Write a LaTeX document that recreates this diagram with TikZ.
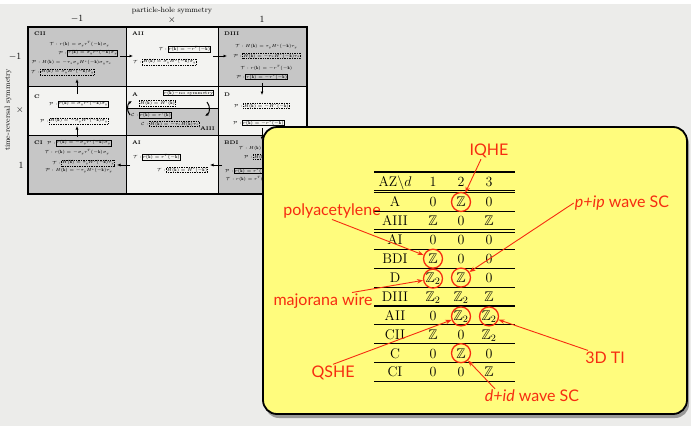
\RequirePackage{fix-cm}
\documentclass[tikz,border=0pt]{standalone}
\usepackage{amssymb}
\usepackage{fontspec}
\newfontfamily\notefont{Lato}
\usetikzlibrary{arrows.meta}

\definecolor{slidebg}{RGB}{236,236,234}
\definecolor{cellgray}{RGB}{198,198,198}
\definecolor{celllight}{RGB}{243,243,241}
\definecolor{noteyellow}{RGB}{255,252,125}
\definecolor{notered}{RGB}{246,44,16}

\newcommand{\kk}{\mathbf{k}}
\newcommand{\ZZ}{\mathbb{Z}}
\newcommand{\ZZt}{\mathbb{Z}_2}

\tikzset{
  formula/.style={inner sep=0.5pt, font=\fontsize{4.4}{5}\selectfont},
  solidbox/.style={formula, draw, line width=0.7pt},
  dotbox/.style={formula, draw, densely dotted, line width=0.7pt},
  withT/.style={label={[formula]left:$\mathcal{T}:$}},
  withP/.style={label={[formula]left:$\mathcal{P}:$}},
  withC/.style={label={[formula]left:$\mathcal{C}:$}},
  classname/.style={inner sep=0pt, font=\fontsize{5.2}{6}\selectfont\bfseries},
  flow/.style={line width=1pt, -{Latex[length=3.5pt,width=3pt]}},
  axislabel/.style={inner sep=0pt, font=\fontsize{7.5}{8}\selectfont},
  axisnum/.style={inner sep=0pt, font=\fontsize{9.5}{10}\selectfont},
  entry/.style={inner sep=0pt, font=\fontsize{14}{14}\selectfont},
  hl/.style={circle, draw=notered, line width=1.3pt, minimum size=19pt, inner sep=0pt},
  tag/.style={inner sep=1pt, text=notered, font=\notefont\fontsize{16}{17}\selectfont},
  pointer/.style={draw=notered, line width=0.9pt, -{Stealth[length=6pt,width=4.5pt]}},
}

\begin{document}
\begin{tikzpicture}[x=1pt, y=-1pt]
\useasboundingbox (0,0) rectangle (691,426);
\fill[slidebg] (0,0) rectangle (691,426);
\fill[white] (0,0) rectangle (691,4);

% grid of the symmetry classes
\def\gl{28} \def\gm{126} \def\gn{218} \def\gr{307}
\def\ga{27} \def\gb{86} \def\gc{135} \def\gd{194}
\def\gs{108} % A / AIII split

\fill[cellgray] (\gl,\ga) rectangle (\gm,\gb);
\fill[celllight] (\gm,\ga) rectangle (\gn,\gb);
\fill[cellgray] (\gn,\ga) rectangle (\gr,\gb);
\fill[celllight] (\gl,\gb) rectangle (\gr,\gc);
\fill[cellgray] (\gm,\gs) rectangle (\gn,\gc);
\fill[cellgray] (\gl,\gc) rectangle (\gm,\gd);
\fill[celllight] (\gm,\gc) rectangle (\gn,\gd);
\fill[cellgray] (\gn,\gc) rectangle (\gr,\gd);

\draw[line width=0.9pt] (\gm,\ga) -- (\gm,\gd) (\gn,\ga) -- (\gn,\gd)
  (\gl,\gb) -- (\gr,\gb) (\gl,\gc) -- (\gr,\gc);
\draw[line width=0.4pt] (\gm,\gs) -- (\gn,\gs);
\draw[line width=1.2pt] (\gl,\ga) rectangle (\gr,\gd);

\node[axislabel] (ph) at (172,11) {particle-hole symmetry};
\node[axisnum] (pm) at (77,19) {$-1$};
\node[axisnum] (p0) at (172,20) {$\times$};
\node[axisnum] (pp) at (262,19) {$1$};
\node[axislabel, rotate=90] (tr) at (8,110) {time-reversal symmetry};
\node[axisnum] (tm) at (15,57) {$-1$};
\node[axisnum] (t0) at (20,110) {$\times$};
\node[axisnum] (tp) at (21,165) {$1$};

% CII
\node[classname, anchor=west] (cii) at (34,34) {CII};
\node[formula, anchor=east] (cii-tr) at (110,44) {$\mathcal{T}: r(\kk)=\sigma_y r^T(-\kk)\sigma_y$};
\node[solidbox, withP, anchor=east] (cii-pr) at (118,53) {$r(\kk)=\sigma_y r^*(-\kk)\sigma_y$};
\node[formula, anchor=west] (cii-ph) at (31,63) {$\mathcal{P}: H(\kk)=-\tau_x\sigma_y H^*(-\kk)\sigma_y\tau_x$};
\node[dotbox, withT, anchor=west] (cii-th) at (40,72) {$H(\kk)=\sigma_y H^*(-\kk)\sigma_y$};

% AII
\node[classname, anchor=west] (aii) at (132,34) {AII};
\node[solidbox, withT, anchor=east] (aii-tr) at (211,49) {$r(\kk)=-r^T(-\kk)$};
\node[dotbox, withT, anchor=west] (aii-th) at (142,62) {$H(\kk)=\sigma_y H^*(-\kk)\sigma_y$};

% DIII
\node[classname, anchor=west] (diii) at (224,34) {DIII};
\node[formula, anchor=east] (diii-th) at (298,47) {$\mathcal{T}: H(\kk)=\tau_y H^*(-\kk)\tau_y$};
\node[dotbox, withP, anchor=east] (diii-ph) at (301,56) {$H(\kk)=-\tau_x H^*(-\kk)\tau_x$};
\node[formula, anchor=east] (diii-tr) at (293,68) {$\mathcal{T}: r(\kk)=-r^T(-\kk)$};
\node[solidbox, withP, anchor=east] (diii-pr) at (288,77) {$r(\kk)=-r^*(-\kk)$};

% C
\node[classname, anchor=west] (c) at (34,97) {C};
\node[solidbox, withP, anchor=west] (c-pr) at (58,104) {$r(\kk)=\sigma_y r^*(-\kk)\sigma_y$};
\node[dotbox, withP, anchor=west] (c-ph) at (49,121) {$H(\kk)=-\sigma_y H^*(-\kk)\sigma_y$};

% A and AIII
\node[classname, anchor=west] (a) at (132,95) {A};
\node[solidbox, anchor=east] (a-r) at (214,93) {$r(\kk)-$no symmetry};
\node[dotbox, anchor=west] (a-h) at (139,103) {$H(\kk)=H^\dagger(\kk)$};
\node[solidbox, withC, anchor=west] (aiii-cr) at (139,115) {$r(\kk)=r^\dagger(\kk)$};
\node[dotbox, withC, anchor=west] (aiii-ch) at (149,124) {$H(\kk)=-\tau_z H(\kk)\tau_z$};
\node[classname, anchor=east] (aiii) at (215,129) {AIII};

% D
\node[classname, anchor=west] (d) at (224,95) {D};
\node[dotbox, withP, anchor=west] (d-ph) at (243,106) {$H(\kk)=-H^*(-\kk)$};
\node[solidbox, withP, anchor=west] (d-pr) at (242,123) {$r(\kk)=-r^*(-\kk)$};

% CI
\node[classname, anchor=west] (ci) at (34,143) {CI};
\node[solidbox, withP, anchor=west] (ci-pr) at (56,143) {$r(\kk)=-\sigma_y r^*(-\kk)\sigma_y$};
\node[formula, anchor=east] (ci-tr) at (110,152) {$\mathcal{T}: r(\kk)=-\sigma_y r^T(-\kk)\sigma_y$};
\node[dotbox, withT, anchor=east] (ci-th) at (115,163) {$H(\kk)=\tau_y H^*(-\kk)\tau_y$};
\node[formula, anchor=east] (ci-ph) at (113,171) {$\mathcal{P}: H(\kk)=-\tau_y H^*(-\kk)\tau_y$};

% AI
\node[classname, anchor=west] (ai) at (132,143) {AI};
\node[solidbox, withT, anchor=west] (ai-tr) at (142,157) {$r(\kk)=r^T(-\kk)$};
\node[dotbox, withT, anchor=east] (ai-th) at (208,170) {$H(\kk)=H^*(-\kk)$};

% BDI
\node[classname, anchor=west] (bdi) at (224,143) {BDI};
\node[formula, anchor=west] (bdi-th) at (238,149) {$\mathcal{T}: H(\kk)=\tau_y H^*(-\kk)\tau_y$};
\node[dotbox, withP, anchor=west] (bdi-ph) at (253,157) {$H(\kk)=-\tau_x H^*(-\kk)\tau_x$};
\node[solidbox, withP, anchor=west] (bdi-pr) at (234,171) {$r(\kk)=r^*(-\kk)$};
\node[formula, anchor=west] (bdi-tr) at (225,179) {$\mathcal{T}: r(\kk)=r^T(-\kk)$};

% arrows between the classes
\coordinate (cii-out) at (120,56);  \coordinate (aii-in) at (133,56);
\coordinate (aii-out) at (213,56);  \coordinate (diii-in) at (227,56);
\coordinate (c-up) at (77,94);      \coordinate (cii-in) at (77,79);
\coordinate (diii-out) at (262,83); \coordinate (d-in) at (262,95);
\coordinate (ci-up) at (77,137);    \coordinate (c-in) at (77,126);
\coordinate (ai-out) at (130,165);  \coordinate (ci-in) at (117,165);
\coordinate (bdi-out) at (222,165); \coordinate (ai-in) at (210,165);
\coordinate (d-out) at (262,128);   \coordinate (bdi-in) at (262,140);
\coordinate (aiii-l) at (130,115);  \coordinate (a-l) at (132,101);
\coordinate (a-rt) at (207,102);    \coordinate (aiii-rt) at (205,116);
\draw[flow] (cii-out) -- (aii-in);
\draw[flow] (aii-out) -- (diii-in);
\draw[flow] (c-up) -- (cii-in);
\draw[flow] (diii-out) -- (d-in);
\draw[flow] (ci-up) -- (c-in);
\draw[flow] (ai-out) -- (ci-in);
\draw[flow] (bdi-out) -- (ai-in);
\draw[flow] (d-out) -- (bdi-in);
\draw[flow] (aiii-l) to[bend left=50] (a-l);
\draw[flow] (a-rt) to[bend left=50] (aiii-rt);

% the note
\fill[black, opacity=0.35, rounded corners=14pt] (265,130) rectangle (689,418);
\filldraw[fill=noteyellow, draw=black, line width=1.8pt, rounded corners=14pt] (263,127) rectangle (687,414);

\def\xn{395}
\def\xa{433}
\def\xb{461}
\def\xc{489}
\def\tl{374}
\def\tr{515}
\def\ya{202}  % row A
\def\dy{18.9}

\node[entry, anchor=base] (h0) at (\xn,186.8) {$\mathrm{AZ}\backslash d$};
\node[entry, anchor=base] (h1) at (\xa,186.8) {1};
\node[entry, anchor=base] (h2) at (\xb,186.8) {2};
\node[entry, anchor=base] (h3) at (\xc,186.8) {3};

\foreach \nm/\ea/\eb/\ec [count=\i] in {A/0/\ZZ/0, AIII/\ZZ/0/\ZZ, AI/0/0/0,
    BDI/\ZZ/0/0, D/\ZZt/\ZZ/0, DIII/\ZZt/\ZZt/\ZZ, AII/0/\ZZt/\ZZt,
    CII/\ZZ/0/\ZZt, C/0/\ZZ/0, CI/0/0/\ZZ}{
  \pgfmathsetmacro\ry{\ya+(\i-1)*\dy+4.8}
  \node[entry, anchor=base] (n\i) at (\xn,\ry) {\nm};
  \node[entry, anchor=base] (e\i-1) at (\xa,\ry) {$\ea$};
  \node[entry, anchor=base] (e\i-2) at (\xb,\ry) {$\eb$};
  \node[entry, anchor=base] (e\i-3) at (\xc,\ry) {$\ec$};
}

\draw[line width=1.1pt] (\tl,172) -- (\tr,172);
\foreach \ly in {190.6, 192.7, 229.9, 232.0}
  \draw[line width=0.9pt] (\tl,\ly) -- (\tr,\ly);
\foreach \k in {1,3,4,5,6,7,8,9,10}
  \draw[line width=1.1pt] (\tl,{\ya+(\k-0.5)*\dy}) -- (\tr,{\ya+(\k-0.5)*\dy});

% circled entries
\node[hl] (o1) at (e1-2) {};
\node[hl] (o2) at (e4-1) {};
\node[hl] (o3) at (e5-1) {};
\node[hl] (o4) at (e5-2) {};
\node[hl] (o5) at (e7-2) {};
\node[hl] (o6) at (e7-3) {};
\node[hl] (o7) at (e9-2) {};

\node[tag] (iqhe) at (489,151) {IQHE};
\node[tag] (poly) at (332,211) {polyacetylene};
\node[tag] (pip) at (622,203) {\textit{p+ip} wave SC};
\node[tag] (maj) at (323,301) {majorana wire};
\node[tag] (qshe) at (333,372.5) {QSHE};
\node[tag] (ti) at (605,357.5) {3D TI};
\node[tag] (did) at (532,396) {\textit{d+id} wave SC};

\draw[pointer] ([xshift=-8pt]iqhe.south) -- (o1);
\draw[pointer] (poly.south) -- (o2);
\draw[pointer] (pip.west) -- (o4);
\draw[pointer] ([xshift=29pt]maj.north) -- (o3);
\draw[pointer] (qshe.north) -- (o5);
\draw[pointer] ([xshift=-17pt]ti.north) -- (o6);
\draw[pointer] ([xshift=-37pt]did.north) -- (o7);

\end{tikzpicture}
\end{document}
